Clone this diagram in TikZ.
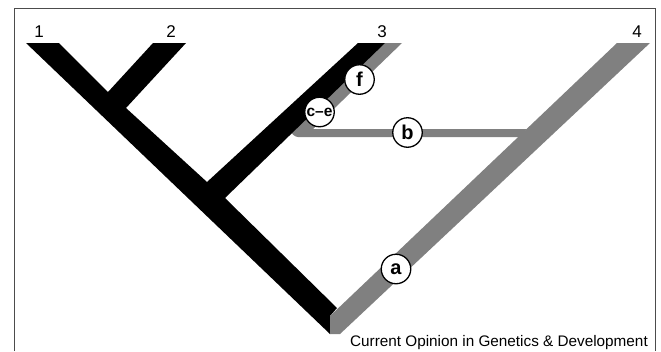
\documentclass[tikz,border=0pt]{standalone}
\usepackage{fontspec}
\setmainfont{Liberation Sans}
\begin{document}
\begin{tikzpicture}[x=1pt,y=-1pt,
  tip/.style={font=\fontsize{17}{17}\selectfont, inner sep=0pt, anchor=base},
  evt/.style={circle, draw=black, line width=1.3pt, fill=white, minimum size=29.5pt, inner sep=0pt, font=\fontsize{20}{20}\selectfont\bfseries},
  evtsmall/.style={evt, font=\fontsize{15.5}{15.5}\selectfont\bfseries},
  grey/.style={fill=black!50, draw=none},
  blk/.style={fill=black, draw=none},
  frame/.style={draw=black!70, line width=0.8pt}]
\useasboundingbox (0,0) rectangle (661,351);
% frame
\draw[frame] (14,351) -- (14,8) -- (655,8) -- (655,351);
% grey strip along branch 3 and horizontal bar b
\path[grey] (378,43) -- (402,43) -- (313,129) -- (527,129) -- (519,137)
  [rounded corners=3pt] -- (295,137) -- (290,131) [sharp corners] -- cycle;
% black tree
\path[blk] (26,43) -- (59,43) -- (108,92) -- (153,43) -- (186,43) -- (126,108)
  -- (207,182) -- (358,43) -- (385,43) -- (225,198) -- (337,308) -- (330,316)
  -- (330,334) -- cycle;
% grey main band to 4
\path[grey] (330,316) -- (617,43) -- (650,43) -- (340,334) -- (330,334) -- cycle;
% tip labels
\node[tip] (t1) at (39,37) {1};
\node[tip] (t2) at (171,37) {2};
\node[tip] (t3) at (382,37) {3};
\node[tip] (t4) at (637,37) {4};
% event circles
\node[evt] (f) at (359.5,79.5) {f};
\node[evtsmall] (ce) at (319.5,112) {c–e};
\node[evt] (b) at (407.5,132.5) {b};
\node[evt] (a) at (396,269) {a};
% caption
\node[anchor=base east, inner sep=0pt, font=\fontsize{15.3}{15.3}\selectfont] (cap) at (648,346) {Current Opinion in Genetics \& Development};
\end{tikzpicture}
\end{document}
